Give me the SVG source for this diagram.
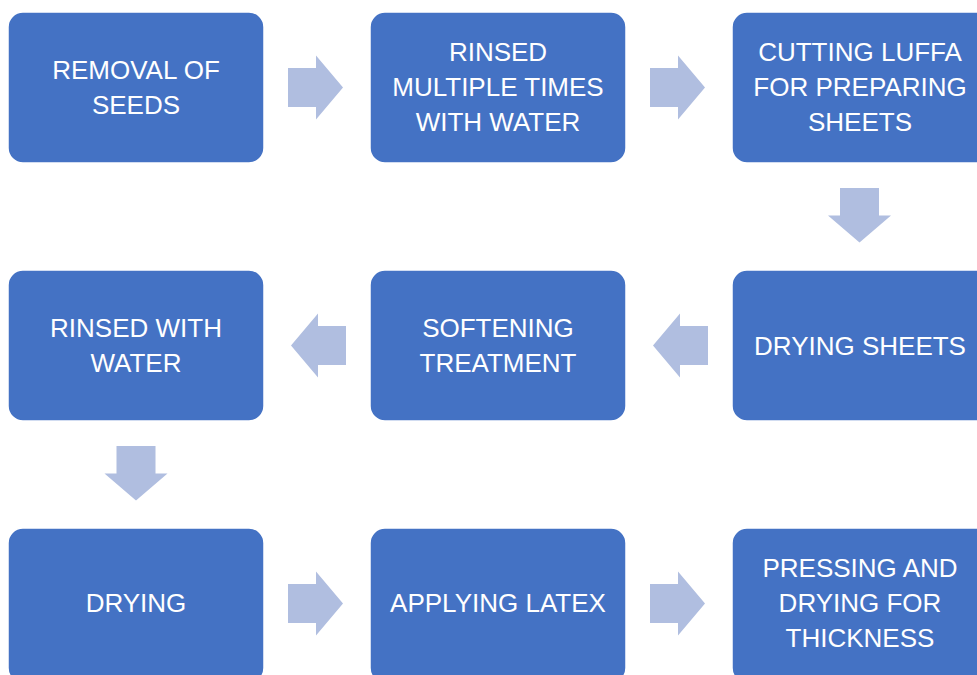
<svg xmlns="http://www.w3.org/2000/svg" width="977" height="675" viewBox="0 0 977 675">
<style>
.box{fill:#4472C4;stroke:#ffffff;stroke-width:1.5}
.arr{fill:#B0BEE0}
.t{font-family:"Liberation Sans",Arial,sans-serif;font-size:26px;fill:#ffffff;text-anchor:middle}
</style>
<defs>
<path id="ra" d="M0,-19.5 H28 V-32 L55,0 L28,32 V19.5 H0 Z"/>
<path id="da" d="M-19.5,0 H19.5 V27.5 H31.5 L0,54.5 L-31.5,27.5 H-19.5 Z"/>
</defs>
<g id="n1"><rect class="box" x="8" y="12" width="256" height="151" rx="15"/><text class="t" x="136" y="79">REMOVAL OF</text><text class="t" x="136" y="114">SEEDS</text></g>
<g id="n2"><rect class="box" x="370" y="12" width="256" height="151" rx="15"/><text class="t" x="498" y="61">RINSED</text><text class="t" x="498" y="96">MULTIPLE TIMES</text><text class="t" x="498" y="131">WITH WATER</text></g>
<g id="n3"><rect class="box" x="732" y="12" width="260" height="151" rx="15"/><text class="t" x="860" y="61">CUTTING LUFFA</text><text class="t" x="860" y="96">FOR PREPARING</text><text class="t" x="860" y="131">SHEETS</text></g>
<g id="n4"><rect class="box" x="732" y="270" width="260" height="151" rx="15"/><text class="t" x="860" y="354.5">DRYING SHEETS</text></g>
<g id="n5"><rect class="box" x="370" y="270" width="256" height="151" rx="15"/><text class="t" x="498" y="337">SOFTENING</text><text class="t" x="498" y="372">TREATMENT</text></g>
<g id="n6"><rect class="box" x="8" y="270" width="256" height="151" rx="15"/><text class="t" x="136" y="337">RINSED WITH</text><text class="t" x="136" y="372">WATER</text></g>
<g id="n7"><rect class="box" x="8" y="528" width="256" height="155" rx="15"/><text class="t" x="136" y="612">DRYING</text></g>
<g id="n8"><rect class="box" x="370" y="528" width="256" height="155" rx="15"/><text class="t" x="498" y="612">APPLYING LATEX</text></g>
<g id="n9"><rect class="box" x="732" y="528" width="260" height="155" rx="15"/><text class="t" x="860" y="577">PRESSING AND</text><text class="t" x="860" y="612">DRYING FOR</text><text class="t" x="860" y="647">THICKNESS</text></g>
<g id="connectors">
<use class="arr" href="#ra" x="288" y="87.5"/>
<use class="arr" href="#ra" x="650" y="87.5"/>
<use class="arr" href="#da" x="859.5" y="188"/>
<use class="arr" href="#ra" transform="translate(708,345.5) scale(-1,1)"/>
<use class="arr" href="#ra" transform="translate(346,345.5) scale(-1,1)"/>
<use class="arr" href="#da" x="136" y="446"/>
<use class="arr" href="#ra" x="288" y="603.5"/>
<use class="arr" href="#ra" x="650" y="603.5"/>
</g>
</svg>
